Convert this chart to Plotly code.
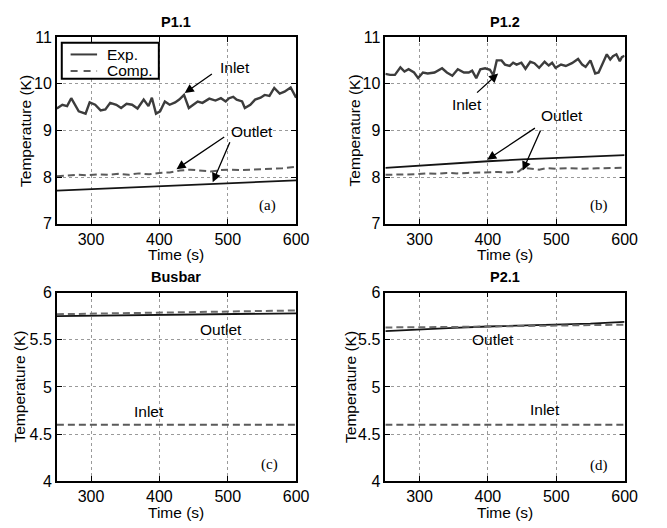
import plotly.graph_objects as go

# ---------------- data ----------------
# Panel (a) P1.1
a_inlet_exp_t = [250, 258, 265, 271, 282, 292, 298, 306, 314, 321, 328, 337, 344, 352, 360, 368,
                 377, 384, 389, 395, 401, 408, 415, 423, 429, 436, 443, 450, 456, 463, 473, 482,
                 490, 497, 502, 508, 513, 521, 525, 533, 540, 548, 554, 561, 568, 576, 583, 592, 597, 600]
a_inlet_exp_v = [9.47, 9.55, 9.52, 9.69, 9.41, 9.36, 9.60, 9.55, 9.43, 9.45, 9.59, 9.55, 9.48, 9.57, 9.55, 9.47,
                 9.66, 9.52, 9.70, 9.36, 9.41, 9.62, 9.55, 9.60, 9.66, 9.76, 9.48, 9.55, 9.62, 9.59, 9.68, 9.64,
                 9.69, 9.62, 9.69, 9.72, 9.66, 9.62, 9.48, 9.55, 9.66, 9.70, 9.76, 9.74, 9.91, 9.79, 9.83, 9.92, 9.78, 9.70]
a_outlet_t = [250, 300, 350, 400, 450, 500, 550, 600]
a_outlet_exp_v = [7.71, 7.74, 7.77, 7.80, 7.84, 7.87, 7.90, 7.93]
a_outlet_comp_t = [250, 265, 280, 295, 310, 325, 340, 355, 370, 385, 400, 415, 430, 445,
                   460, 475, 490, 505, 520, 535, 550, 565, 580, 600]
a_outlet_comp_v = [8.02, 8.03, 8.05, 8.04, 8.06, 8.05, 8.07, 8.05, 8.08, 8.06, 8.09, 8.10, 8.14, 8.16,
                   8.14, 8.12, 8.15, 8.16, 8.15, 8.16, 8.16, 8.17, 8.19, 8.22]

# Panel (b) P1.2
b_inlet_exp_t = [250, 257, 264, 272, 278, 284, 292, 298, 305, 312, 322, 333, 340, 348, 356, 365,
                 372, 377, 383, 389, 396, 403, 408, 413, 420, 425, 432, 437, 442, 449, 455, 462,
                 468, 475, 483, 489, 494, 499, 507, 514, 523, 532, 538, 543, 550, 557, 562, 567,
                 574, 579, 583, 588, 593, 596, 600]
b_inlet_exp_v = [10.21, 10.19, 10.19, 10.35, 10.26, 10.31, 10.24, 10.12, 10.24, 10.22, 10.24, 10.33, 10.24, 10.17, 10.31, 10.24,
                 10.24, 10.28, 10.12, 10.31, 10.33, 10.30, 10.18, 10.50, 10.50, 10.41, 10.38, 10.45, 10.41, 10.45, 10.32, 10.47,
                 10.44, 10.34, 10.47, 10.39, 10.45, 10.34, 10.41, 10.38, 10.44, 10.53, 10.41, 10.36, 10.50, 10.22, 10.24, 10.41,
                 10.63, 10.52, 10.59, 10.63, 10.48, 10.57, 10.60]
b_outlet_t = [250, 300, 350, 400, 450, 500, 550, 600]
b_outlet_exp_v = [8.20, 8.25, 8.30, 8.34, 8.38, 8.41, 8.44, 8.47]
b_outlet_comp_t = [250, 265, 280, 295, 310, 325, 340, 355, 370, 385, 400, 415, 430, 445,
                   452, 465, 475, 485, 500, 520, 540, 560, 580, 600]
b_outlet_comp_v = [8.05, 8.05, 8.06, 8.06, 8.08, 8.07, 8.09, 8.08, 8.09, 8.10, 8.10, 8.11, 8.10, 8.12,
                   8.20, 8.18, 8.16, 8.19, 8.18, 8.19, 8.18, 8.19, 8.20, 8.20]

# Panel (c) Busbar
c_t = [250, 300, 350, 400, 450, 500, 550, 600]
c_outlet_exp_v = [5.75, 5.755, 5.76, 5.765, 5.77, 5.775, 5.78, 5.78]
c_outlet_comp_v = [5.77, 5.775, 5.78, 5.785, 5.795, 5.80, 5.805, 5.81]
c_inlet_comp_v = [4.60, 4.60, 4.60, 4.60, 4.60, 4.60, 4.60, 4.60]

# Panel (d) P2.1
d_t = [250, 300, 350, 400, 450, 500, 550, 600]
d_outlet_exp_v = [5.59, 5.61, 5.625, 5.64, 5.65, 5.66, 5.67, 5.69]
d_outlet_comp_v = [5.63, 5.63, 5.635, 5.64, 5.645, 5.65, 5.655, 5.66]
d_inlet_comp_v = [4.60, 4.60, 4.60, 4.60, 4.60, 4.60, 4.60, 4.60]

panel_titles = ["P1.1", "P1.2", "Busbar", "P2.1"]
panel_tags = ["(a)", "(b)", "(c)", "(d)"]
legend_labels = ["Exp.", "Comp."]
x_ticks = [300, 400, 500, 600]
y_ticks_top = [7, 8, 9, 10, 11]
y_ticks_bot = [4, 4.5, 5, 5.5, 6]

# ---------------- styles ----------------
SANS = "Liberation Sans, Arial, Helvetica, sans-serif"
SERIF = "Liberation Serif, Times New Roman, serif"
EXP_IN = dict(color="#3c3c3c", width=2.4)
EXP_OUT = dict(color="#141414", width=1.8)
COMP = dict(color="#5a5a5a", width=2, dash="7px,4px")
COMP_L = dict(color="#6a6a6a", width=2, dash="7px,4px")

fig = go.Figure()

def add(x, y, line, xa, ya, name):
    fig.add_trace(go.Scatter(x=x, y=y, mode="lines", line=line, xaxis=xa, yaxis=ya,
                             name=name, showlegend=False, hoverinfo="skip"))

# (a)
add(a_inlet_exp_t, a_inlet_exp_v, EXP_IN, "x", "y", "Exp.")
add(a_outlet_comp_t, a_outlet_comp_v, COMP, "x", "y", "Comp.")
add(a_outlet_t, a_outlet_exp_v, EXP_OUT, "x", "y", "Exp.")
# (b)
add(b_inlet_exp_t, b_inlet_exp_v, EXP_IN, "x2", "y2", "Exp.")
add(b_outlet_t, b_outlet_exp_v, EXP_OUT, "x2", "y2", "Exp.")
add(b_outlet_comp_t, b_outlet_comp_v, COMP, "x2", "y2", "Comp.")
# (c)
add(c_t, c_outlet_exp_v, EXP_OUT, "x3", "y3", "Exp.")
add(c_t, c_outlet_comp_v, COMP_L, "x3", "y3", "Comp.")
add(c_t, c_inlet_comp_v, COMP, "x3", "y3", "Comp.")
# (d)
add(d_t, d_outlet_exp_v, EXP_OUT, "x4", "y4", "Exp.")
add(d_t, d_outlet_comp_v, COMP_L, "x4", "y4", "Comp.")
add(d_t, d_inlet_comp_v, COMP, "x4", "y4", "Comp.")

W, H = 667, 528
# plot areas in pixels (left, right, top, bottom)
boxes = [(58, 302, 30, 223), (393, 637, 30, 223), (58, 302, 294, 489), (393, 637, 294, 489)]
ytitle_x = [26, 361, 20, 358]

def px(x):
    return x / W

def py(y):
    return 1 - y / H

common = dict(showline=True, linecolor="black", linewidth=1.6, mirror="ticks",
              ticks="inside", ticklen=5, tickcolor="black", tickwidth=1,
              showgrid=True, gridcolor="#9a9a9a", griddash="dot", gridwidth=1,
              zeroline=False, tickfont=dict(family=SANS, size=16, color="black"))

layout = {}
for i, b in enumerate(boxes):
    sfx = "" if i == 0 else str(i + 1)
    layout["xaxis" + sfx] = dict(common, domain=[px(b[0]), px(b[1])], range=[250, 600],
                                 tickvals=x_ticks, anchor="y" + sfx)
    yt = y_ticks_top if i < 2 else y_ticks_bot
    layout["yaxis" + sfx] = dict(common, domain=[py(b[3]), py(b[2])], range=[yt[0], yt[-1]],
                                 tickvals=yt, ticktext=[("%g" % v) for v in yt],
                                 anchor="x" + sfx)

annotations = []

def ptxt(s, x, y, size=15.5, fam=SANS, angle=0):
    annotations.append(dict(text=s, x=px(x), y=py(y), xref="paper", yref="paper",
                            xanchor="center", yanchor="middle", showarrow=False,
                            textangle=angle, font=dict(family=fam, size=size, color="black")))

for i, b in enumerate(boxes):
    cx = (b[0] + b[1]) / 2
    ptxt("<b>%s</b>" % panel_titles[i], cx, b[2] - 16, size=14.5)
    ptxt("Time (s)", cx, b[3] + 32)
    ptxt("Temperature (K)", ytitle_x[i], (b[2] + b[3]) / 2, angle=-90)

def txt(s, x, y, xr, yr, fam=SANS, size=15.5):
    annotations.append(dict(text=s, x=x, y=y, xref=xr, yref=yr, showarrow=False,
                            xanchor="center", yanchor="middle",
                            font=dict(family=fam, size=size, color="black")))

def arrow(x0, y0, x1, y1, xr, yr):
    annotations.append(dict(text="", x=x1, y=y1, ax=x0, ay=y0, xref=xr, yref=yr,
                            axref=xr, ayref=yr, showarrow=True, arrowhead=2,
                            arrowsize=1.4, arrowwidth=1.3, arrowcolor="black"))

# (a)
txt("Inlet", 511, 10.34, "x", "y")
arrow(479, 10.23, 437, 9.80, "x", "y")
txt("Outlet", 536, 8.97, "x", "y")
arrow(497, 8.88, 425, 8.17, "x", "y")
arrow(504, 8.78, 478, 7.89, "x", "y")
txt(panel_tags[0], 558, 7.39, "x", "y", SERIF, 15)
# (b)
txt("Inlet", 370, 9.55, "x2", "y2")
arrow(382, 9.78, 415, 10.22, "x2", "y2")
txt("Outlet", 508, 9.32, "x2", "y2")
arrow(471, 9.07, 399, 8.37, "x2", "y2")
arrow(478, 9.03, 451, 8.14, "x2", "y2")
txt(panel_tags[1], 562, 7.39, "x2", "y2", SERIF, 15)
# (c)
txt("Outlet", 490, 5.61, "x3", "y3")
txt("Inlet", 385, 4.74, "x3", "y3")
txt(panel_tags[2], 561, 4.18, "x3", "y3", SERIF, 15)
# (d)
txt("Outlet", 408, 5.50, "x4", "y4")
txt("Inlet", 484, 4.76, "x4", "y4")
txt(panel_tags[3], 562, 4.17, "x4", "y4", SERIF, 15)

# legend box (drawn in panel (a))
shapes = [
    dict(type="rect", xref="paper", yref="paper", x0=px(63), x1=px(162), y0=py(73), y1=py(36),
         line=dict(color="black", width=2), fillcolor="white", layer="above"),
    dict(type="line", xref="paper", yref="paper", x0=px(72), x1=px(99), y0=py(48), y1=py(48),
         line=dict(color=EXP_IN["color"], width=2), layer="above"),
    dict(type="line", xref="paper", yref="paper", x0=px(72), x1=px(99), y0=py(65), y1=py(65),
         line=dict(color=COMP["color"], width=2, dash="7px,6px"), layer="above"),
]
for lbl, yy in zip(legend_labels, [48, 65]):
    annotations.append(dict(text=lbl, x=px(107), y=py(yy), xref="paper", yref="paper",
                            xanchor="left", yanchor="middle", showarrow=False,
                            font=dict(family=SANS, size=15.5, color="black")))

fig.update_layout(**layout)
fig.update_layout(
    width=W, height=H, margin=dict(l=0, r=0, t=0, b=0),
    paper_bgcolor="white", plot_bgcolor="white",
    annotations=annotations, shapes=shapes, showlegend=False,
)
fig.write_html("out.html")
